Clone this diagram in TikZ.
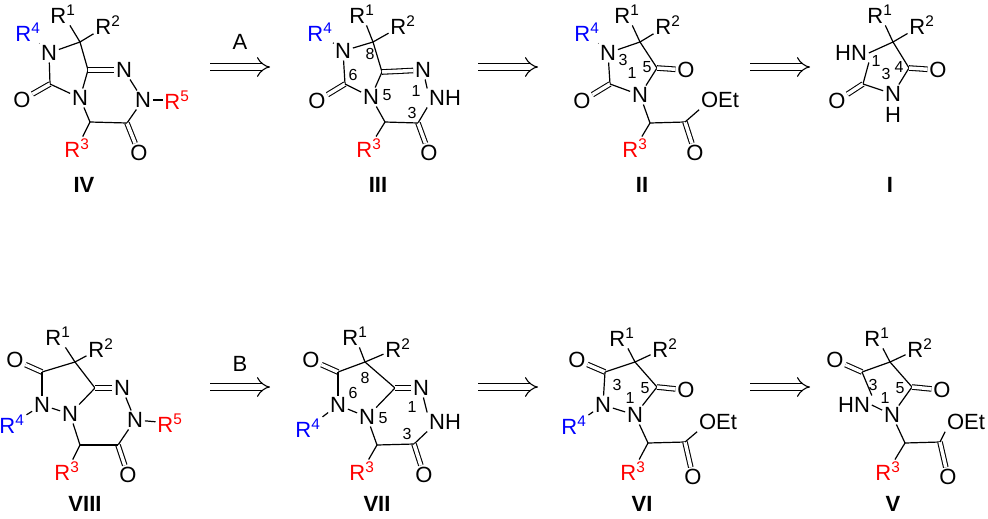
\documentclass[tikz,border=0pt]{standalone}
\usepackage{fontspec}
\setmainfont{Liberation Sans}
\usetikzlibrary{arrows.meta}
\definecolor{rblue}{RGB}{0,0,255}
\definecolor{rred}{RGB}{255,0,0}

\begin{document}
\begin{tikzpicture}[
    x=0.75pt, y=-0.75pt,
    line width=0.9pt,
    % Styles
    atom/.style={inner sep=1pt, font=\fontsize{16.5}{18}\selectfont},
    blu/.style={atom, text=rblue},
    rd/.style={atom, text=rred},
    num/.style={inner sep=0pt, font=\fontsize{12}{13}\selectfont},
    cpd/.style={font=\fontsize{16.5}{18}\selectfont\bfseries},
    dbl/.style={double, double distance=2.6pt, line width=0.8pt},
    retro/.style={double, double distance=4.5pt, line width=0.8pt, -{Implies}}
]
\useasboundingbox (0,0) rectangle (988,518);

% --- IV ---
\node[atom] (iv_r1) at (63,14) {R\textsuperscript{1}};
\node[atom] (iv_r2) at (108,25) {R\textsuperscript{2}};
\coordinate (iv_c8) at (80,42);
\node[atom] (iv_n7) at (49,53) {N};
\node[blu] (iv_r4) at (28,32) {R\textsuperscript{4}};
\coordinate (iv_c6) at (50,84);
\node[atom] (iv_o6) at (22,100) {O};
\node[atom] (iv_n5) at (80,98) {N};
\coordinate (iv_c8a) at (88,70);
\node[atom] (iv_n1) at (124,70) {N};
\node[atom] (iv_n2) at (143,100) {N};
\node[rd] (iv_r5) at (177,100) {R\textsuperscript{5}};
\coordinate (iv_c3) at (127,123);
\node[atom] (iv_o3) at (139,153) {O};
\coordinate (iv_c4) at (90,122);
\node[rd] (iv_r3) at (77,148) {R\textsuperscript{3}};
\node[cpd] (iv) at (84,185) {IV};
\draw (iv_c8) -- (iv_r1); \draw (iv_c8) -- (iv_r2);
\draw (iv_c8) -- (iv_n7); \draw (iv_n7) -- (iv_r4);
\draw (iv_n7) -- (iv_c6); \draw[dbl] (iv_c6) -- (iv_o6);
\draw (iv_c6) -- (iv_n5); \draw (iv_n5) -- (iv_c8a);
\draw (iv_c8a) -- (iv_c8); \draw[dbl] (iv_c8a) -- (iv_n1);
\draw (iv_n1) -- (iv_n2); \draw (iv_n2) -- (iv_r5);
\draw (iv_n2) -- (iv_c3); \draw[dbl] (iv_c3) -- (iv_o3);
\draw (iv_c3) -- (iv_c4); \draw (iv_c4) -- (iv_n5);
\draw (iv_c4) -- (iv_r3);

% --- arrow A ---
\coordinate (aA1) at (210,67); \coordinate (aA2) at (270,67);
\draw[retro] (aA1) -- (aA2);
\node[atom] (lA) at (240,42) {A};

% --- III ---
\node[atom] (iii_r1) at (362,14) {R\textsuperscript{1}};
\node[atom] (iii_r2) at (403,25) {R\textsuperscript{2}};
\coordinate (iii_c8) at (373,42);
\node[atom] (iii_n7) at (343,51) {N};
\node[blu] (iii_r4) at (320,32) {R\textsuperscript{4}};
\coordinate (iii_c6) at (345,84);
\node[atom] (iii_o6) at (317,101) {O};
\node[atom] (iii_n5) at (371,97) {N};
\coordinate (iii_c8a) at (382,72);
\node[atom] (iii_n1) at (423,70) {N};
\node[atom] (iii_n2) at (445,98) {NH};
\coordinate (iii_c3) at (418,123);
\node[atom] (iii_o3) at (429,153) {O};
\coordinate (iii_c4) at (385,122);
\node[rd] (iii_r3) at (369,148) {R\textsuperscript{3}};
\node[num] at (370,54) {8};
\node[num] at (353,75) {6};
\node[num] at (387,95) {5};
\node[num] at (416,91) {1};
\node[num] at (412,113) {3};
\node[cpd] (iii) at (378,185) {III};
\draw (iii_c8) -- (iii_r1); \draw (iii_c8) -- (iii_r2);
\draw (iii_c8) -- (iii_n7); \draw (iii_n7) -- (iii_r4);
\draw (iii_n7) -- (iii_c6); \draw[dbl] (iii_c6) -- (iii_o6);
\draw (iii_c6) -- (iii_n5); \draw (iii_n5) -- (iii_c8a);
\draw (iii_c8a) -- (iii_c8); \draw[dbl] (iii_c8a) -- (iii_n1);
\draw (iii_n1) -- (iii_n2.north west);
\draw (iii_n2.south west) -- (iii_c3); \draw[dbl] (iii_c3) -- (iii_o3);
\draw (iii_c3) -- (iii_c4); \draw (iii_c4) -- (iii_n5);
\draw (iii_c4) -- (iii_r3);

% --- arrow III -> II ---
\coordinate (a21) at (478,67); \coordinate (a22) at (538,67);
\draw[retro] (a21) -- (a22);

% --- II ---
\node[atom] (ii_r1) at (627,14) {R\textsuperscript{1}};
\node[atom] (ii_r2) at (668,25) {R\textsuperscript{2}};
\coordinate (ii_c4) at (640,42);
\node[atom] (ii_n3) at (608,53) {N};
\node[blu] (ii_r4) at (587,32) {R\textsuperscript{4}};
\coordinate (ii_c2) at (610,84);
\node[atom] (ii_o2) at (582,101) {O};
\node[atom] (ii_n1) at (640,95) {N};
\coordinate (ii_c5) at (657,68);
\node[atom] (ii_o5) at (686,70) {O};
\coordinate (ii_ch) at (650,123);
\node[rd] (ii_r3) at (635,148) {R\textsuperscript{3}};
\coordinate (ii_ce) at (685,122);
\node[atom] (ii_oe) at (695,153) {O};
\node[atom] (ii_oet) at (720,100) {OEt};
\node[num] at (623,60) {3};
\node[num] at (632,73) {1};
\node[num] at (647,67) {5};
\node[cpd] (ii) at (642,185) {II};
\draw (ii_c4) -- (ii_r1); \draw (ii_c4) -- (ii_r2);
\draw (ii_c4) -- (ii_n3); \draw (ii_n3) -- (ii_r4);
\draw (ii_n3) -- (ii_c2); \draw[dbl] (ii_c2) -- (ii_o2);
\draw (ii_c2) -- (ii_n1); \draw (ii_n1) -- (ii_c5);
\draw (ii_c5) -- (ii_c4); \draw[dbl] (ii_c5) -- (ii_o5);
\draw (ii_n1) -- (ii_ch); \draw (ii_ch) -- (ii_r3);
\draw (ii_ch) -- (ii_ce); \draw[dbl] (ii_ce) -- (ii_oe);
\draw (ii_ce) -- (ii_oet.south west);

% --- arrow II -> I ---
\coordinate (a11) at (750,67); \coordinate (a12) at (810,67);
\draw[retro] (a11) -- (a12);

% --- I ---
\node[atom] (i_r1) at (880,14) {R\textsuperscript{1}};
\node[atom] (i_r2) at (922,25) {R\textsuperscript{2}};
\coordinate (i_c5) at (893,42);
\node[atom] (i_n1) at (851,53) {HN};
\coordinate (i_c2) at (863,84);
\node[atom] (i_o2) at (837,101) {O};
\node[atom] (i_n3) at (893,94) {N};
\node[atom, inner sep=0pt] (i_h3) at (893,115) {H};
\coordinate (i_c4) at (909,68);
\node[atom] (i_o4) at (938,70) {O};
\node[num] at (876,61) {1};
\node[num] at (886,74) {3};
\node[num] at (899,67) {4};
\node[cpd] (i) at (890,185) {I};
\draw (i_c5) -- (i_r1); \draw (i_c5) -- (i_r2);
\draw (i_c5) -- (i_n1.east); \draw (i_n1.south east) -- (i_c2);
\draw[dbl] (i_c2) -- (i_o2);
\draw (i_c2) -- (i_n3); \draw (i_n3) -- (i_c4);
\draw (i_c4) -- (i_c5); \draw[dbl] (i_c4) -- (i_o4);

% --- VIII ---
\node[atom] (viii_r1) at (58,336) {R\textsuperscript{1}};
\node[atom] (viii_r2) at (101,348) {R\textsuperscript{2}};
\coordinate (viii_c8) at (75,362);
\coordinate (viii_c7) at (42,372);
\node[atom] (viii_o7) at (15,360) {O};
\node[atom] (viii_n6) at (42,405) {N};
\node[blu] (viii_r4) at (12,424) {R\textsuperscript{4}};
\node[atom] (viii_n5) at (70,414) {N};
\coordinate (viii_c8a) at (95,388);
\node[atom] (viii_n1) at (122,388) {N};
\node[atom] (viii_n2) at (135,420) {N};
\node[rd] (viii_r5) at (170,423) {R\textsuperscript{5}};
\coordinate (viii_c3) at (118,445);
\node[atom] (viii_o3) at (128,475) {O};
\coordinate (viii_c4) at (80,445);
\node[rd] (viii_r3) at (67,471) {R\textsuperscript{3}};
\node[cpd] (viii) at (85,504) {VIII};
\draw (viii_c8) -- (viii_r1); \draw (viii_c8) -- (viii_r2);
\draw (viii_c8) -- (viii_c7); \draw[dbl] (viii_c7) -- (viii_o7);
\draw (viii_c7) -- (viii_n6); \draw (viii_n6) -- (viii_r4);
\draw (viii_n6) -- (viii_n5); \draw (viii_n5) -- (viii_c8a);
\draw (viii_c8a) -- (viii_c8); \draw[dbl] (viii_c8a) -- (viii_n1);
\draw (viii_n1) -- (viii_n2); \draw (viii_n2) -- (viii_r5);
\draw (viii_n2) -- (viii_c3); \draw[dbl] (viii_c3) -- (viii_o3);
\draw (viii_c3) -- (viii_c4); \draw (viii_c4) -- (viii_n5);
\draw (viii_c4) -- (viii_r3);

% --- arrow B ---
\coordinate (aB1) at (210,387); \coordinate (aB2) at (270,387);
\draw[retro] (aB1) -- (aB2);
\node[atom] (lB) at (240,364) {B};

% --- VII ---
\node[atom] (vii_r1) at (355,336) {R\textsuperscript{1}};
\node[atom] (vii_r2) at (398,348) {R\textsuperscript{2}};
\coordinate (vii_c8) at (365,362);
\coordinate (vii_c7) at (338,372);
\node[atom] (vii_o7) at (311,360) {O};
\node[atom] (vii_n6) at (338,405) {N};
\node[blu] (vii_r4) at (308,428) {R\textsuperscript{4}};
\node[atom] (vii_n5) at (367,417) {N};
\coordinate (vii_c8a) at (395,388);
\node[atom] (vii_n1) at (421,388) {N};
\node[atom] (vii_n2) at (445,422) {NH};
\coordinate (vii_c3) at (414,444);
\node[atom] (vii_o3) at (424,475) {O};
\coordinate (vii_c4) at (377,445);
\node[rd] (vii_r3) at (362,471) {R\textsuperscript{3}};
\node[num] at (365,378) {8};
\node[num] at (353,393) {6};
\node[num] at (383,418) {5};
\node[num] at (412,407) {1};
\node[num] at (407,434) {3};
\node[cpd] (vii) at (377,504) {VII};
\draw (vii_c8) -- (vii_r1); \draw (vii_c8) -- (vii_r2);
\draw (vii_c8) -- (vii_c7); \draw[dbl] (vii_c7) -- (vii_o7);
\draw (vii_c7) -- (vii_n6); \draw (vii_n6) -- (vii_r4);
\draw (vii_n6) -- (vii_n5); \draw (vii_n5) -- (vii_c8a);
\draw (vii_c8a) -- (vii_c8); \draw[dbl] (vii_c8a) -- (vii_n1);
\draw (vii_n1) -- (vii_n2.north west);
\draw (vii_n2.south west) -- (vii_c3); \draw[dbl] (vii_c3) -- (vii_o3);
\draw (vii_c3) -- (vii_c4); \draw (vii_c4) -- (vii_n5);
\draw (vii_c4) -- (vii_r3);

% --- arrow VII -> VI ---
\coordinate (a61) at (478,387); \coordinate (a62) at (538,387);
\draw[retro] (a61) -- (a62);

% --- VI ---
\node[atom] (vi_r1) at (622,337) {R\textsuperscript{1}};
\node[atom] (vi_r2) at (665,348) {R\textsuperscript{2}};
\coordinate (vi_c4) at (635,362);
\coordinate (vi_c3) at (605,372);
\node[atom] (vi_o3) at (577,360) {O};
\node[atom] (vi_n2) at (603,405) {N};
\node[blu] (vi_r4) at (574,425) {R\textsuperscript{4}};
\node[atom] (vi_n1) at (635,415) {N};
\coordinate (vi_c5) at (657,387);
\node[atom] (vi_o5) at (686,390) {O};
\coordinate (vi_ch) at (648,443);
\node[rd] (vi_r3) at (633,471) {R\textsuperscript{3}};
\coordinate (vi_ce) at (685,442);
\node[atom] (vi_oe) at (693,477) {O};
\node[atom] (vi_oet) at (718,422) {OEt};
\node[num] at (617,385) {3};
\node[num] at (630,398) {1};
\node[num] at (645,388) {5};
\node[cpd] (vi) at (642,504) {VI};
\draw (vi_c4) -- (vi_r1); \draw (vi_c4) -- (vi_r2);
\draw (vi_c4) -- (vi_c3); \draw[dbl] (vi_c3) -- (vi_o3);
\draw (vi_c3) -- (vi_n2); \draw (vi_n2) -- (vi_r4);
\draw (vi_n2) -- (vi_n1); \draw (vi_n1) -- (vi_c5);
\draw (vi_c5) -- (vi_c4); \draw[dbl] (vi_c5) -- (vi_o5);
\draw (vi_n1) -- (vi_ch); \draw (vi_ch) -- (vi_r3);
\draw (vi_ch) -- (vi_ce); \draw[dbl] (vi_ce) -- (vi_oe);
\draw (vi_ce) -- (vi_oet.south west);

% --- arrow VI -> V ---
\coordinate (a51) at (750,387); \coordinate (a52) at (810,387);
\draw[retro] (a51) -- (a52);

% --- V ---
\node[atom] (v_r1) at (877,337) {R\textsuperscript{1}};
\node[atom] (v_r2) at (920,348) {R\textsuperscript{2}};
\coordinate (v_c4) at (890,362);
\coordinate (v_c3) at (862,372);
\node[atom] (v_o3) at (835,360) {O};
\node[atom] (v_n2) at (854,405) {HN};
\node[atom] (v_n1) at (892,415) {N};
\coordinate (v_c5) at (912,387);
\node[atom] (v_o5) at (942,390) {O};
\coordinate (v_ch) at (905,443);
\node[rd] (v_r3) at (888,471) {R\textsuperscript{3}};
\coordinate (v_ce) at (940,442);
\node[atom] (v_oe) at (948,477) {O};
\node[atom] (v_oet) at (966,422) {OEt};
\node[num] at (873,385) {3};
\node[num] at (885,398) {1};
\node[num] at (900,388) {5};
\node[cpd] (v) at (893,504) {V};
\draw (v_c4) -- (v_r1); \draw (v_c4) -- (v_r2);
\draw (v_c4) -- (v_c3); \draw[dbl] (v_c3) -- (v_o3);
\draw (v_c3) -- (v_n2.north east); \draw (v_n2.east) -- (v_n1);
\draw (v_n1) -- (v_c5);
\draw (v_c5) -- (v_c4); \draw[dbl] (v_c5) -- (v_o5);
\draw (v_n1) -- (v_ch); \draw (v_ch) -- (v_r3);
\draw (v_ch) -- (v_ce); \draw[dbl] (v_ce) -- (v_oe);
\draw (v_ce) -- (v_oet.south west);

\end{tikzpicture}
\end{document}
